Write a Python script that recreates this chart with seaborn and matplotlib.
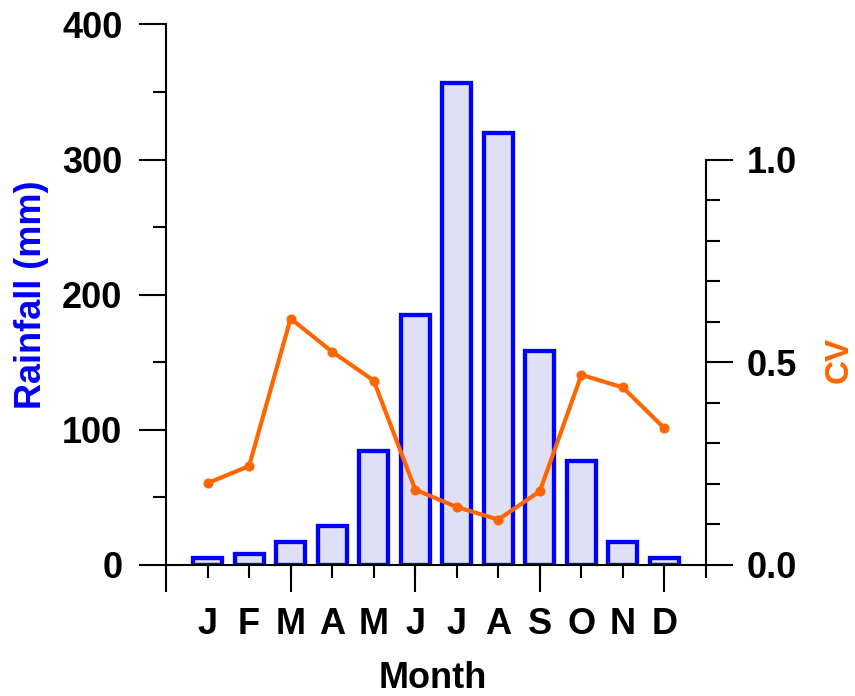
import pandas as pd
import matplotlib
matplotlib.use('Agg')
import matplotlib.pyplot as plt
import seaborn as sns

sns.set_style('ticks')
plt.rcParams['font.family'] = ['Liberation Sans', 'DejaVu Sans']
plt.rcParams['font.weight'] = 'bold'
plt.rcParams.update({'text.color': 'black', 'axes.labelcolor': 'black',
                     'xtick.color': 'black', 'ytick.color': 'black',
                     'axes.edgecolor': 'black'})

# data
month_num = list(range(1, 13))
month_lbl = ['J', 'F', 'M', 'A', 'M', 'J', 'J', 'A', 'S', 'O', 'N', 'D']
rainfall = [5, 8, 17, 29, 84, 185, 357, 320, 158, 77, 17, 5]
cv = [0.202, 0.244, 0.608, 0.526, 0.455, 0.186, 0.143, 0.112, 0.182, 0.469, 0.438, 0.337]

BLUE = '#0000ff'
ORANGE = '#ff6600'
FILL = '#e0e0f4'
FS = 26

df = pd.DataFrame({'month': month_num, 'rain': rainfall, 'cv': cv})

fig = plt.figure(figsize=(8.55, 6.96), dpi=100)
ax = fig.add_axes([0.19415, 0.18822, 0.63158, 0.7766])

sns.barplot(data=df, x='month', y='rain', ax=ax, native_scale=True, width=0.7,
            color=FILL, edgecolor=BLUE, linewidth=3.1, saturation=1)
for p in ax.patches:
    p.set_facecolor(FILL)
    p.set_edgecolor(BLUE)

ax.set_xlim(0, 13)
ax.set_ylim(0, 400)

# x ticks: long ticks every 3 months, short ticks at each month carrying the letters
ax.xaxis.remove_overlapping_locs = False
ax.set_xticks([0, 3, 6, 9, 12], [''] * 5)
ax.set_xticks(list(range(1, 14)), month_lbl + [''], minor=True)
ax.tick_params(axis='x', which='major', length=19.4, width=1.5, direction='out')
ax.tick_params(axis='x', which='minor', length=9.4, width=1.5, direction='out',
               pad=21, labelsize=FS)

ax.set_yticks([0, 100, 200, 300, 400])
ax.set_yticks(list(range(50, 400, 100)), minor=True)
ax.tick_params(axis='y', which='major', length=19.4, width=1.5, pad=12, labelsize=FS)
ax.tick_params(axis='y', which='minor', length=9.4, width=1.5)

for s in ['left', 'bottom']:
    ax.spines[s].set_linewidth(1.5)
ax.spines['top'].set_visible(False)
ax.spines['right'].set_visible(False)

ax.set_xlabel('Month', fontsize=FS, fontweight='bold')
ax.xaxis.set_label_coords(0.494, -0.178)
ax.set_ylabel('Rainfall (mm)', fontsize=FS, fontweight='bold', color=BLUE)
ax.yaxis.set_label_coords(-0.216, 0.5)

# CV on a second axis
ax2 = ax.twinx()
sns.lineplot(data=df, x='month', y='cv', ax=ax2, color=ORANGE, linewidth=3,
             marker='o', markersize=6.5, markeredgecolor=ORANGE)
ax2.set_xlim(0, 13)
ax2.set_ylim(0, 4 / 3)
ax2.set_yticks([0, 0.5, 1.0], ['0.0', '0.5', '1.0'])
ax2.set_yticks([0.1, 0.2, 0.3, 0.4, 0.6, 0.7, 0.8, 0.9], minor=True)
ax2.tick_params(axis='y', which='major', length=19.4, width=1.5, pad=10, labelsize=FS)
ax2.tick_params(axis='y', which='minor', length=10, width=1.5)
for s in ['left', 'top', 'bottom']:
    ax2.spines[s].set_visible(False)
ax2.spines['right'].set_linewidth(1.5)
ax2.spines['right'].set_bounds(0, 1.0)
ax2.set_ylabel('CV', fontsize=FS - 2, fontweight='bold', color=ORANGE)
ax2.yaxis.set_label_coords(1.218, 0.38)

fig.savefig('out.png', dpi=100)
